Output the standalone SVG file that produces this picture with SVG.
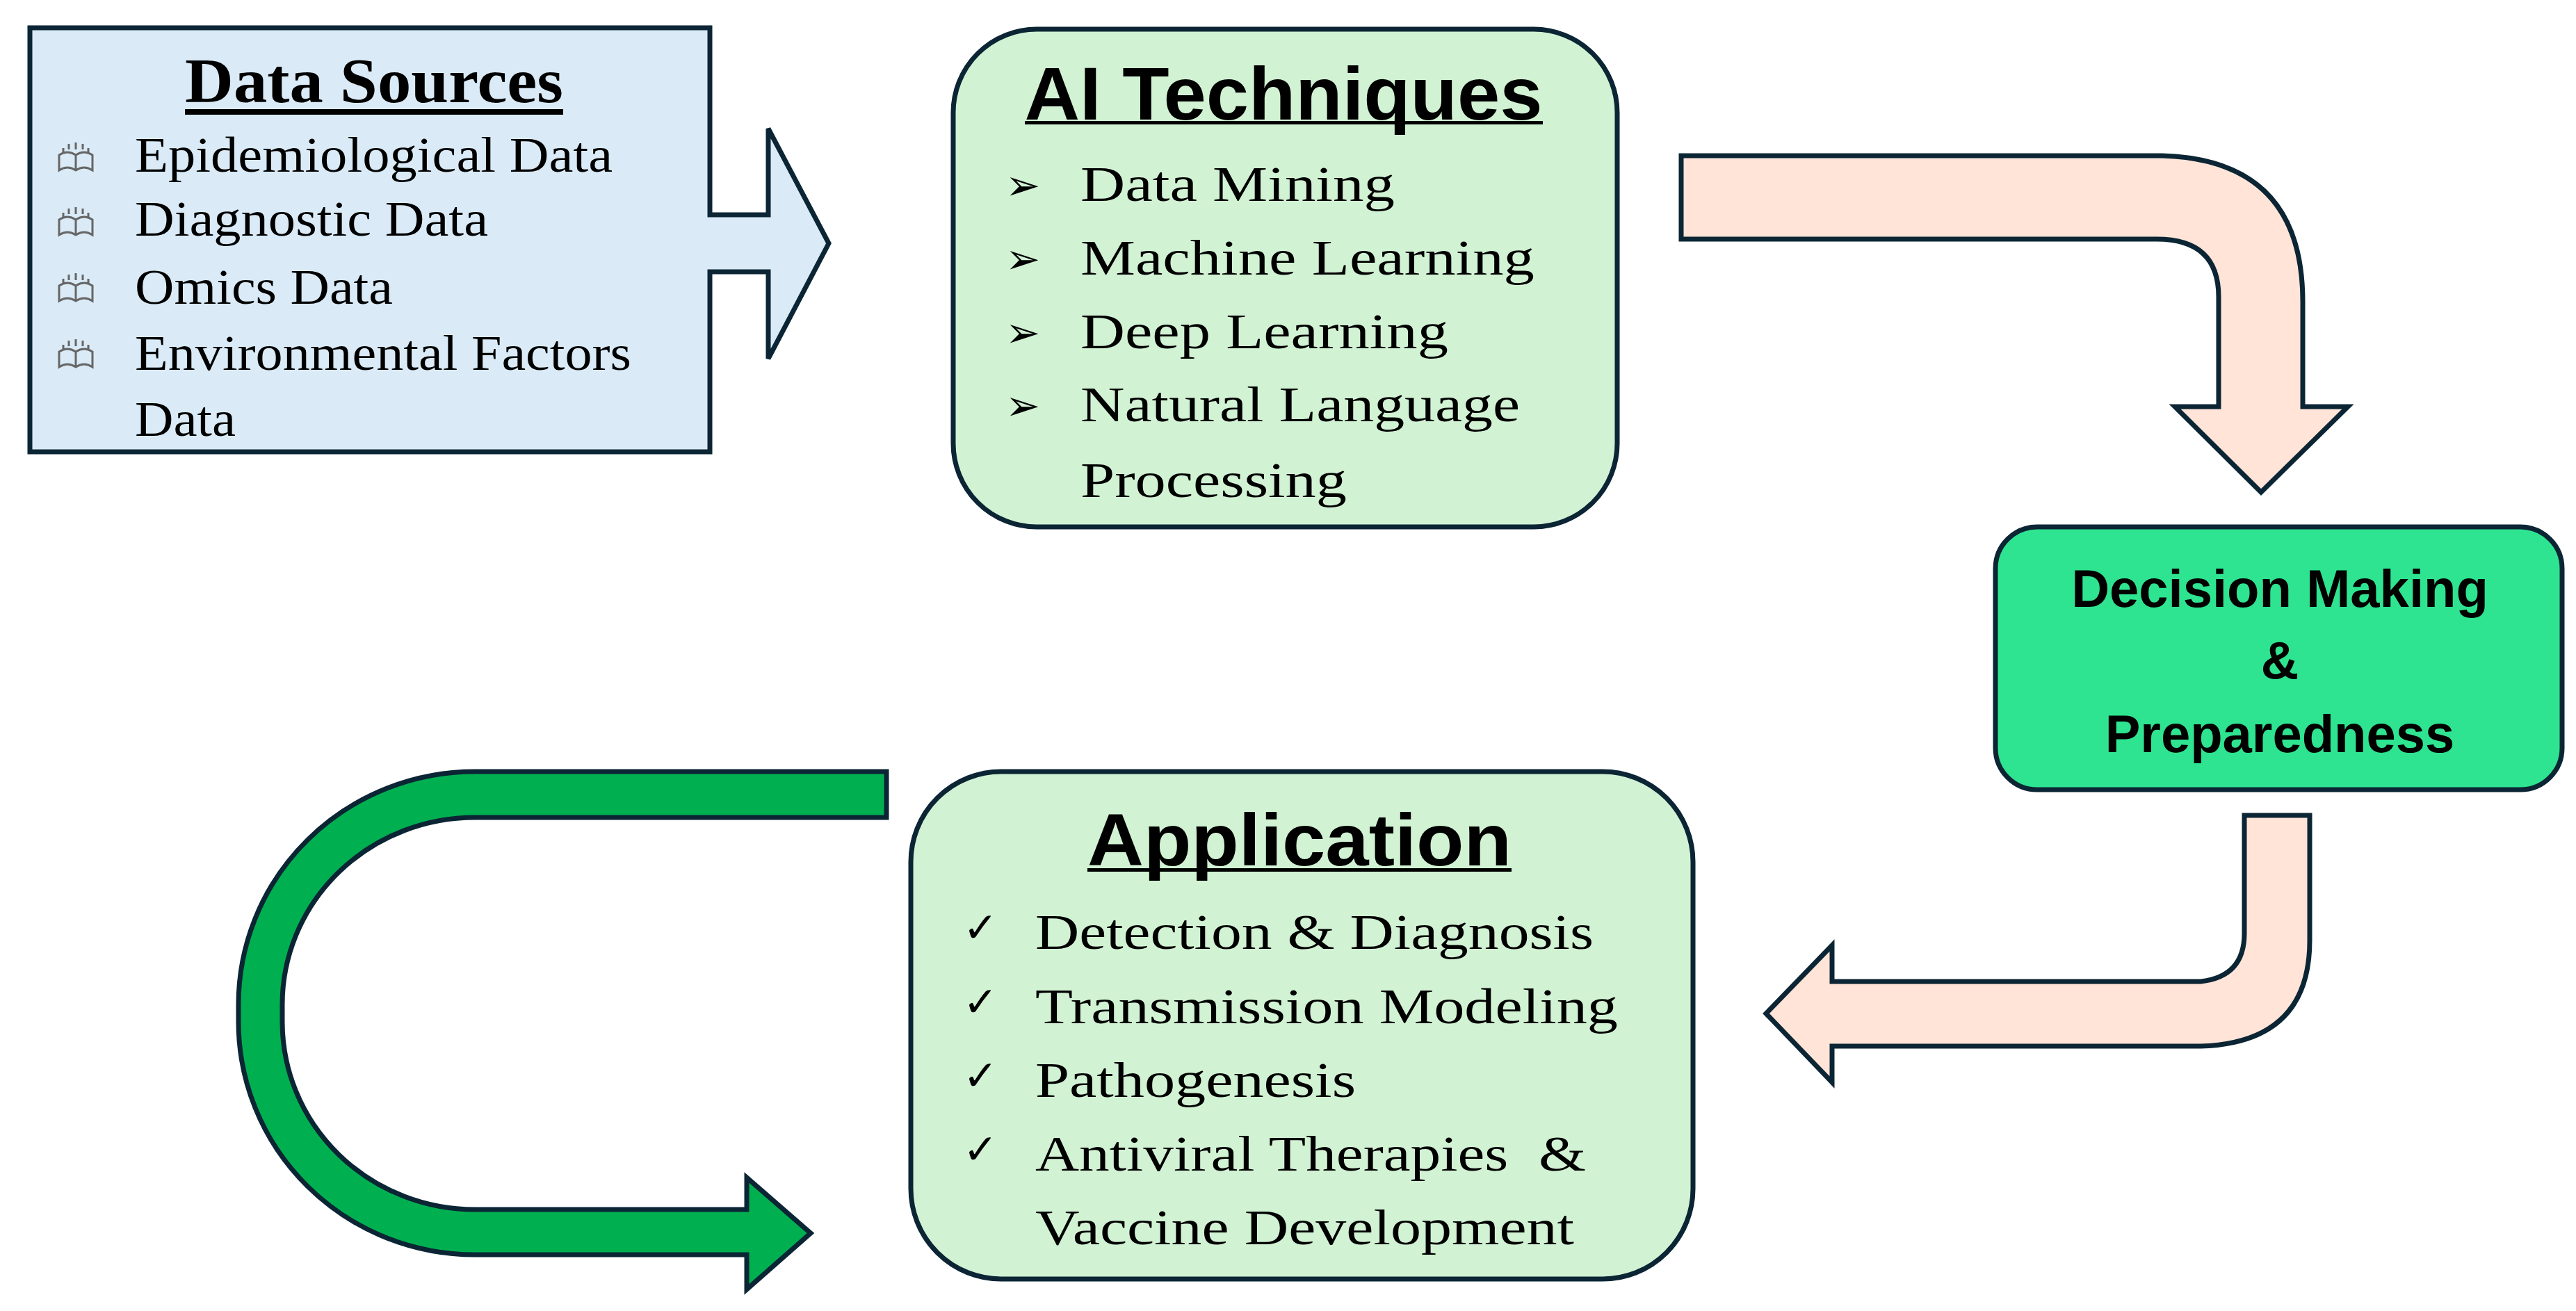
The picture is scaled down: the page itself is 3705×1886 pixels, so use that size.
<svg xmlns="http://www.w3.org/2000/svg" width="3705" height="1886" viewBox="0 0 3705 1886">
<style>
.ol{stroke:#0b2534;stroke-width:7;stroke-linejoin:miter}
.ser{font-family:"Liberation Serif","Times New Roman",serif;font-size:72px;fill:#000}
.hd{font-family:"Liberation Sans",Arial,sans-serif;font-weight:bold;fill:#000;text-anchor:middle}
.bul{font-family:"DejaVu Sans",sans-serif;font-size:60px;fill:#000}
.ic{fill:none;stroke:#666;stroke-width:3}
</style>
<defs>
<g id="book">
<path class="ic" d="M0,40 Q12,32 24,40 Q36,32 48,40 L48,18 Q36,10 24,18 Q12,10 0,18 Z M24,18 V40"/>
<path class="ic" d="M6,8 v6 M14,2 v8 M24,0 v10 M34,2 v8 M42,8 v6"/>
</g>
</defs>
<rect width="3705" height="1886" fill="#fff"/>
<g id="connectors">
<path class="ol" fill="#FFE4D7" d="M2418,224 H3110 Q3312,230 3312,434 V585 H3377 L3252,708 L3128,585 H3191 V427 Q3191,344 3102,344 H2418 Z"/>
<path class="ol" fill="#FFE4D7" d="M3228,1173 H3322 V1353 Q3322,1500 3165,1505 H2635 V1557 L2540,1458 L2635,1360 V1412 H3165 Q3228,1405 3228,1343 Z"/>
<path class="ol" fill="#00B050" d="M1275,1110 H683 A340,335 0 0 0 343,1445 V1470 A340,335 0 0 0 683,1805 H1074 V1855 L1166,1774 L1074,1694 V1740 H683 A277,270 0 0 1 406,1470 V1445 A277,269 0 0 1 683,1176 H1275 Z"/>
</g>
<g id="data-sources">
<path class="ol" fill="#DAEBF7" d="M43,40 H1021 V309 H1105 V185 L1192,350 L1105,516 V391 H1021 V650 H43 Z"/>
<text class="hd" x="538" y="147" style="font-family:'Liberation Serif','Times New Roman',serif;font-size:92px" textLength="544" lengthAdjust="spacingAndGlyphs">Data Sources</text>
<rect x="266" y="157" width="544" height="8" fill="#000"/>
<use href="#book" x="85" y="205"/>
<use href="#book" x="85" y="298"/>
<use href="#book" x="85" y="393"/>
<use href="#book" x="85" y="488"/>
<text class="ser" x="194" y="247" textLength="687" lengthAdjust="spacingAndGlyphs">Epidemiological Data</text>
<text class="ser" x="194" y="339" textLength="508" lengthAdjust="spacingAndGlyphs">Diagnostic Data</text>
<text class="ser" x="194" y="437" textLength="371" lengthAdjust="spacingAndGlyphs">Omics Data</text>
<text class="ser" x="194" y="532" textLength="714" lengthAdjust="spacingAndGlyphs">Environmental Factors</text>
<text class="ser" x="194" y="627" textLength="145" lengthAdjust="spacingAndGlyphs">Data</text>
</g>
<g id="ai-techniques">
<rect class="ol" x="1371" y="42" width="955" height="716" rx="120" fill="#D2F2D4"/>
<text class="hd" x="1846" y="172" font-size="107" textLength="745" lengthAdjust="spacingAndGlyphs">AI Techniques</text>
<rect x="1474" y="174" width="745" height="5" fill="#000"/>
<text class="bul" x="1446" y="287">➢</text>
<text class="bul" x="1446" y="393">➢</text>
<text class="bul" x="1446" y="499">➢</text>
<text class="bul" x="1446" y="604">➢</text>
<text class="ser" x="1554" y="289" textLength="452" lengthAdjust="spacingAndGlyphs">Data Mining</text>
<text class="ser" x="1554" y="395" textLength="653" lengthAdjust="spacingAndGlyphs">Machine Learning</text>
<text class="ser" x="1554" y="501" textLength="529" lengthAdjust="spacingAndGlyphs">Deep Learning</text>
<text class="ser" x="1554" y="606" textLength="632" lengthAdjust="spacingAndGlyphs">Natural Language</text>
<text class="ser" x="1554" y="715" textLength="383" lengthAdjust="spacingAndGlyphs">Processing</text>
</g>
<g id="decision">
<rect class="ol" x="2870" y="758" width="815" height="378" rx="60" fill="#2EE490"/>
<text class="hd" x="3279" y="873" font-size="76">Decision Making</text>
<text class="hd" x="3279" y="976" font-size="76">&amp;</text>
<text class="hd" x="3279" y="1082" font-size="76">Preparedness</text>
</g>
<g id="application">
<rect class="ol" x="1310" y="1110" width="1125" height="730" rx="130" fill="#D2F2D4"/>
<text class="hd" x="1869" y="1245" font-size="105" textLength="610" lengthAdjust="spacingAndGlyphs">Application</text>
<rect x="1564" y="1249" width="610" height="5" fill="#000"/>
<text class="bul" x="1385" y="1355">✓</text>
<text class="bul" x="1385" y="1462">✓</text>
<text class="bul" x="1385" y="1568">✓</text>
<text class="bul" x="1385" y="1674">✓</text>
<text class="ser" x="1489" y="1365" font-size="78" textLength="803" lengthAdjust="spacingAndGlyphs">Detection &amp; Diagnosis</text>
<text class="ser" x="1489" y="1472" font-size="78" textLength="838" lengthAdjust="spacingAndGlyphs">Transmission Modeling</text>
<text class="ser" x="1489" y="1578" font-size="78" textLength="461" lengthAdjust="spacingAndGlyphs">Pathogenesis</text>
<text class="ser" x="1489" y="1684" font-size="78" textLength="792" lengthAdjust="spacingAndGlyphs" xml:space="preserve">Antiviral Therapies  &amp;</text>
<text class="ser" x="1489" y="1790" font-size="78" textLength="775" lengthAdjust="spacingAndGlyphs">Vaccine Development</text>
</g>
</svg>
